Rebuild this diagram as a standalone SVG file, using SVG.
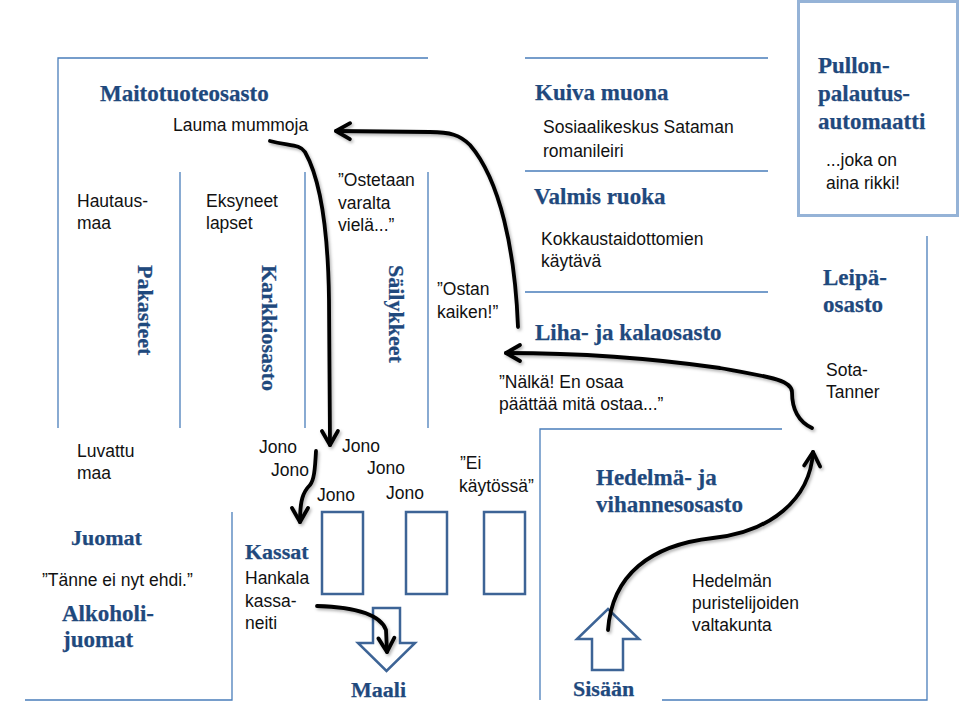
<svg xmlns="http://www.w3.org/2000/svg" width="960" height="720" viewBox="0 0 960 720">
<style>
.wall{stroke:#4a7ebb;stroke-width:1.3;fill:none}
.h{font-family:"Liberation Serif","Times New Roman",serif;font-weight:bold;font-size:23px;fill:#1f497d;stroke:#1f497d;stroke-width:0.25}
.s{font-size:22px}
.t{font-family:"Liberation Sans",Arial,sans-serif;font-size:17.5px;fill:#111}
.till{fill:#fff;stroke:#3d6496;stroke-width:2.5}
.hollow{fill:#fff;stroke:#3d6496;stroke-width:2.5;stroke-linejoin:miter}
.conn{fill:none;stroke:#000;stroke-width:3.8;stroke-linecap:round;stroke-linejoin:round}
</style>
<defs>
<filter id="sh" x="-10%" y="-10%" width="130%" height="130%">
<feDropShadow dx="1.5" dy="2" stdDeviation="1.5" flood-color="#000" flood-opacity="0.3"/>
</filter>
<marker id="chev" viewBox="-17 -11 20 22" refX="0" refY="0" markerWidth="20" markerHeight="22" orient="auto" markerUnits="userSpaceOnUse">
<path d="M-14,-8 L0,0 L-14,8" fill="none" stroke="#000" stroke-width="3.8" stroke-linecap="round" stroke-linejoin="round"/>
</marker>
</defs>
<rect width="960" height="720" fill="#fff"/>

<g id="walls">
<path class="wall" d="M58,428 V58 H428"/>
<path class="wall" d="M180,172 V428 M305,172 V428 M428,172 V428"/>
<path class="wall" d="M525,58 H768 M525,171 H768 M525,292 H768"/>
<path class="wall" d="M927,236 V700 H662 M540,700 V429 H782"/>
<path class="wall" d="M232,512 V700 H25"/>
</g>

<g id="maitotuoteosasto">
<text class="h" x="100" y="101">Maitotuoteosasto</text>
<text class="t" x="173" y="131">Lauma mummoja</text>
</g>
<g id="pakasteet">
<text class="t" x="77" y="207">Hautaus-</text>
<text class="t" x="77" y="229">maa</text>
<text class="h s" transform="translate(138,265) rotate(90)">Pakasteet</text>
</g>
<g id="karkkiosasto">
<text class="t" x="206" y="207">Eksyneet</text>
<text class="t" x="206" y="229">lapset</text>
<text class="h s" transform="translate(262,265) rotate(90)">Karkkiosasto</text>
</g>
<g id="sailykkeet">
<text class="t" x="338" y="186">”Ostetaan</text>
<text class="t" x="338" y="209">varalta</text>
<text class="t" x="338" y="231">vielä...”</text>
<text class="h s" transform="translate(389,265) rotate(90)">Säilykkeet</text>
</g>
<g id="luvattu-maa">
<text class="t" x="77" y="457">Luvattu</text>
<text class="t" x="77" y="479">maa</text>
</g>
<g id="kuiva-muona">
<text class="h" x="535" y="100">Kuiva muona</text>
<text class="t" x="543" y="133">Sosiaalikeskus Sataman</text>
<text class="t" x="543" y="157">romanileiri</text>
</g>
<g id="valmis-ruoka">
<text class="h" x="534" y="204">Valmis ruoka</text>
<text class="t" x="541" y="245">Kokkaustaidottomien</text>
<text class="t" x="541" y="267">käytävä</text>
</g>
<g id="pullonpalautus">
<rect x="798.5" y="1.5" width="159" height="214" fill="#fff" stroke="#95b3d7" stroke-width="3"/>
<text class="h" x="818" y="73">Pullon-</text>
<text class="h" x="818" y="101">palautus-</text>
<text class="h" x="818" y="129">automaatti</text>
<text class="t" x="826" y="166">...joka on</text>
<text class="t" x="826" y="189">aina rikki!</text>
</g>
<g id="leipaosasto">
<text class="h" x="823" y="285">Leipä-</text>
<text class="h" x="823" y="312">osasto</text>
<text class="t" x="826" y="376">Sota-</text>
<text class="t" x="826" y="398">Tanner</text>
</g>
<g id="ostan-kaiken">
<text class="t" x="437" y="295">”Ostan</text>
<text class="t" x="437" y="318">kaiken!”</text>
</g>
<g id="liha-ja-kalaosasto">
<text class="h" x="535" y="340">Liha- ja kalaosasto</text>
<text class="t" x="499" y="388">”Nälkä! En osaa</text>
<text class="t" x="499" y="410">päättää mitä ostaa...”</text>
</g>
<g id="jono">
<text class="t" x="259" y="453">Jono</text>
<text class="t" x="271" y="476">Jono</text>
<text class="t" x="342" y="452">Jono</text>
<text class="t" x="367" y="474">Jono</text>
<text class="t" x="317" y="501">Jono</text>
<text class="t" x="386" y="499">Jono</text>
<text class="t" x="460" y="469">”Ei</text>
<text class="t" x="459" y="492">käytössä”</text>
</g>
<g id="kassat">
<rect class="till" x="322" y="512" width="41" height="82"/>
<rect class="till" x="406" y="512" width="41" height="82"/>
<rect class="till" x="484" y="512" width="41" height="82"/>
<text class="h s" x="245" y="559">Kassat</text>
<text class="t" x="245" y="584">Hankala</text>
<text class="t" x="245" y="607">kassa-</text>
<text class="t" x="245" y="629">neiti</text>
</g>
<g id="juomat">
<text class="h s" x="71" y="545">Juomat</text>
<text class="t" x="42" y="586">”Tänne ei nyt ehdi.”</text>
<text class="h" x="62" y="621">Alkoholi-</text>
<text class="h" x="63" y="647">juomat</text>
</g>
<g id="maali">
<polygon class="hollow" points="373,608 400,608 400,643 415,643 386.5,671 358,643 373,643"/>
<text class="h s" x="351" y="697">Maali</text>
</g>
<g id="hedelma-ja-vihannesosasto">
<text class="h" x="596" y="485">Hedelmä- ja</text>
<text class="h" x="596" y="512">vihannesosasto</text>
<text class="t" x="692" y="587">Hedelmän</text>
<text class="t" x="692" y="609">puristelijoiden</text>
<text class="t" x="692" y="631">valtakunta</text>
</g>
<g id="sisaan">
<polygon class="hollow" points="608,609 639,639 623,639 623,670 592,670 592,639 577,639"/>
<text class="h s" x="573" y="696">Sisään</text>
</g>

<g id="connectors" filter="url(#sh)">
<path class="conn" marker-end="url(#chev)" d="M270,141 C290,146 300,144 305,152 C318,175 328,220 329,300 L330,445"/>
<path class="conn" marker-end="url(#chev)" d="M316,451 C315,470 314,480 310,485 C303,492 300,500 300,522"/>
<path class="conn" marker-end="url(#chev)" d="M317,606 C350,607 380,613 386,630 L387,652"/>
<path class="conn" marker-end="url(#chev)" d="M608,630 C612,575 650,545 713,538 C770,532 810,500 813,452"/>
<path class="conn" marker-end="url(#chev)" d="M812,428 C795,420 792,405 792,392 C792,380 770,377 720,368 C650,358 580,353 506,353"/>
<path class="conn" marker-end="url(#chev)" d="M518,327 C515,250 500,180 470,145 C460,135 450,132 430,132 L336,131"/>
</g>
</svg>
